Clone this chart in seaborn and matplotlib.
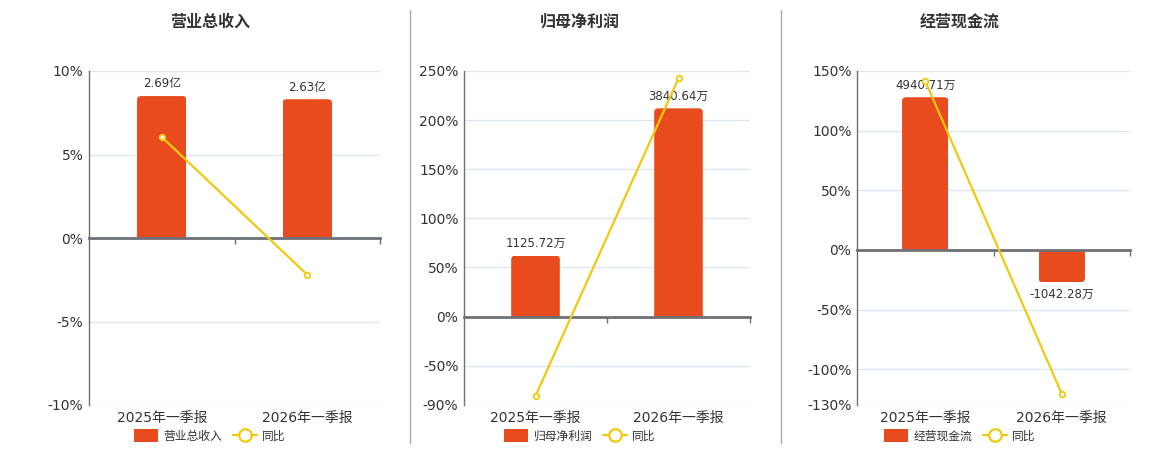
import matplotlib
matplotlib.use('Agg')
import matplotlib.pyplot as plt
import seaborn as sns
from matplotlib.lines import Line2D
from matplotlib.patches import Patch, FancyBboxPatch, Rectangle

# --- DATA ---
categories = ['2025年一季报', '2026年一季报']
revenue = [2.69, 2.63]              # 亿
revenue_yoy = [6.05, -2.2]          # %
net_profit = [1125.72, 3840.64]     # 万
net_profit_yoy = [-80.8, 242.5]     # %
cash_flow = [4940.71, -1042.28]     # 万
cash_flow_yoy = [141.5, -120.5]     # %

# --- STYLE ---
W, H = 1160, 450
BAR = '#e84c1e'
LINE = '#f2c80f'
AXIS = '#6e7079'
GRID = '#e0e6f1'
TEXT = '#333333'

sns.set_style('white')
plt.rcParams['font.family'] = ['DejaVu Sans', 'Noto Sans CJK SC']

panels = [
    dict(title='营业总收入', bars=revenue, yoy=revenue_yoy, unit='亿',
         ylim=(-10, 10), yticks=[-10, -5, 0, 5, 10], bar_top=8.5,
         left=89, right=380, cx=210),
    dict(title='归母净利润', bars=net_profit, yoy=net_profit_yoy, unit='万',
         ylim=(-90, 250), yticks=[-90, -50, 0, 50, 100, 150, 200, 250], bar_top=212,
         left=464, right=750, cx=580),
    dict(title='经营现金流', bars=cash_flow, yoy=cash_flow_yoy, unit='万',
         ylim=(-130, 150), yticks=[-130, -100, -50, 0, 50, 100, 150], bar_top=128,
         left=857, right=1130, cx=960),
]

TOP, BOTTOM = 71, 405
RADIUS = 4  # px, rounded bar ends


def round_bars(axb, width_px, height_px):
    # swap seaborn's rectangles for rounded ones, rounded only at the far end
    x0, x1 = axb.get_xlim()
    y0, y1 = axb.get_ylim()
    xpp = (x1 - x0) / width_px
    ypp = (y1 - y0) / height_px
    for bar in list(axb.patches):
        bx, by, bw, bh = bar.get_x(), bar.get_y(), bar.get_width(), bar.get_height()
        ext = RADIUS * ypp
        if bh >= 0:
            fy, fh = by - ext, bh + ext
        else:
            fy, fh = by + bh, -bh + ext
        fancy = FancyBboxPatch((bx, fy), bw, fh,
                               boxstyle=f'round,pad=0,rounding_size={RADIUS * xpp}',
                               mutation_aspect=ypp / xpp,
                               facecolor=bar.get_facecolor(), edgecolor='none',
                               zorder=bar.get_zorder())
        clip = Rectangle((bx, min(by, by + bh)), bw, abs(bh), transform=axb.transData)
        axb.add_patch(fancy)
        fancy.set_clip_path(clip)
        bar.set_visible(False)


fig = plt.figure(figsize=(W / 100, H / 100), dpi=100)

for p in panels:
    ax = fig.add_axes([p['left'] / W, 1 - BOTTOM / H,
                       (p['right'] - p['left']) / W, (BOTTOM - TOP) / H])
    lo, hi = p['ylim']
    ax.set_ylim(lo, hi)
    ax.set_yticks(p['yticks'])
    ax.set_yticklabels([f'{t}%' for t in p['yticks']])
    ax.grid(axis='y', color=GRID, lw=1)
    ax.grid(axis='x', visible=False)
    ax.set_axisbelow(True)
    for s in ['top', 'right', 'bottom']:
        ax.spines[s].set_visible(False)
    ax.spines['left'].set_color(AXIS)
    ax.spines['left'].set_linewidth(1)
    ax.tick_params(axis='y', length=0, pad=4, labelsize=10, labelcolor=TEXT)

    # bars on a hidden twin axis, scaled so that zero lines up
    axb = ax.twinx()
    scale = p['bar_top'] / max(abs(v) for v in p['bars'])
    axb.set_ylim(lo / scale, hi / scale)
    sns.barplot(x=categories, y=p['bars'], ax=axb, color=BAR, width=0.34,
                saturation=1, edgecolor='none')
    axb.bar_label(axb.containers[0],
                  labels=[f'{v:.2f}{p["unit"]}' for v in p['bars']],
                  padding=4, fontsize=8.5, color=TEXT)
    axb.set_xlim(-0.5, 1.5)
    round_bars(axb, p['right'] - p['left'], BOTTOM - TOP)
    axb.yaxis.set_visible(False)
    for s in ['top', 'right', 'left']:
        axb.spines[s].set_visible(False)
    axb.spines['bottom'].set_position(('data', 0))
    axb.spines['bottom'].set_color(AXIS)
    axb.spines['bottom'].set_linewidth(2)
    axb.xaxis.set_visible(True)

    # yoy line on another twin sharing the percent scale
    axl = ax.twinx()
    axl.set_ylim(lo, hi)
    sns.pointplot(x=categories, y=p['yoy'], ax=axl, color=LINE, errorbar=None,
                  markers='o', markersize=4, markerfacecolor='white',
                  markeredgewidth=1.3, linewidth=1.6)
    axl.axis('off')

    ax.set_xlim(-0.5, 1.5)
    ax.set_xticks([0, 1])
    ax.set_xticklabels(categories)
    ax.set_xticks([0.5, 1.5], minor=True)
    ax.tick_params(axis='x', which='both', length=0, pad=4, labelsize=10,
                   labelcolor=TEXT)
    axb.tick_params(axis='x', which='major', bottom=False, length=0,
                    labelbottom=False)
    axb.tick_params(axis='x', which='minor', bottom=True, length=4, width=1,
                    color=AXIS, direction='out', labelbottom=False)

    fig.text(p['cx'] / W, 1 - 22 / H, p['title'], ha='center', va='center',
             fontsize=11.5, fontweight='bold', color=TEXT,
             family=['Noto Sans CJK SC', 'DejaVu Sans'])

    handles = [Patch(facecolor=BAR, edgecolor='none'),
               Line2D([0], [0], color=LINE, lw=1.6, marker='o', markersize=9,
                      markerfacecolor='white', markeredgewidth=1.6)]
    fig.legend(handles, [p['title'], '同比'], loc='center',
               bbox_to_anchor=(p['cx'] / W, 1 - 436 / H), ncol=2, frameon=False,
               fontsize=8.5, handlelength=2.0, handleheight=1.2,
               handletextpad=0.5, columnspacing=0.9, labelcolor=TEXT)

for x in [410, 781]:
    fig.add_artist(Line2D([x / W, x / W], [1 - 10 / H, 1 - 443 / H],
                          color='#aaaaaa', lw=1))

fig.savefig('out.png', dpi=100)
